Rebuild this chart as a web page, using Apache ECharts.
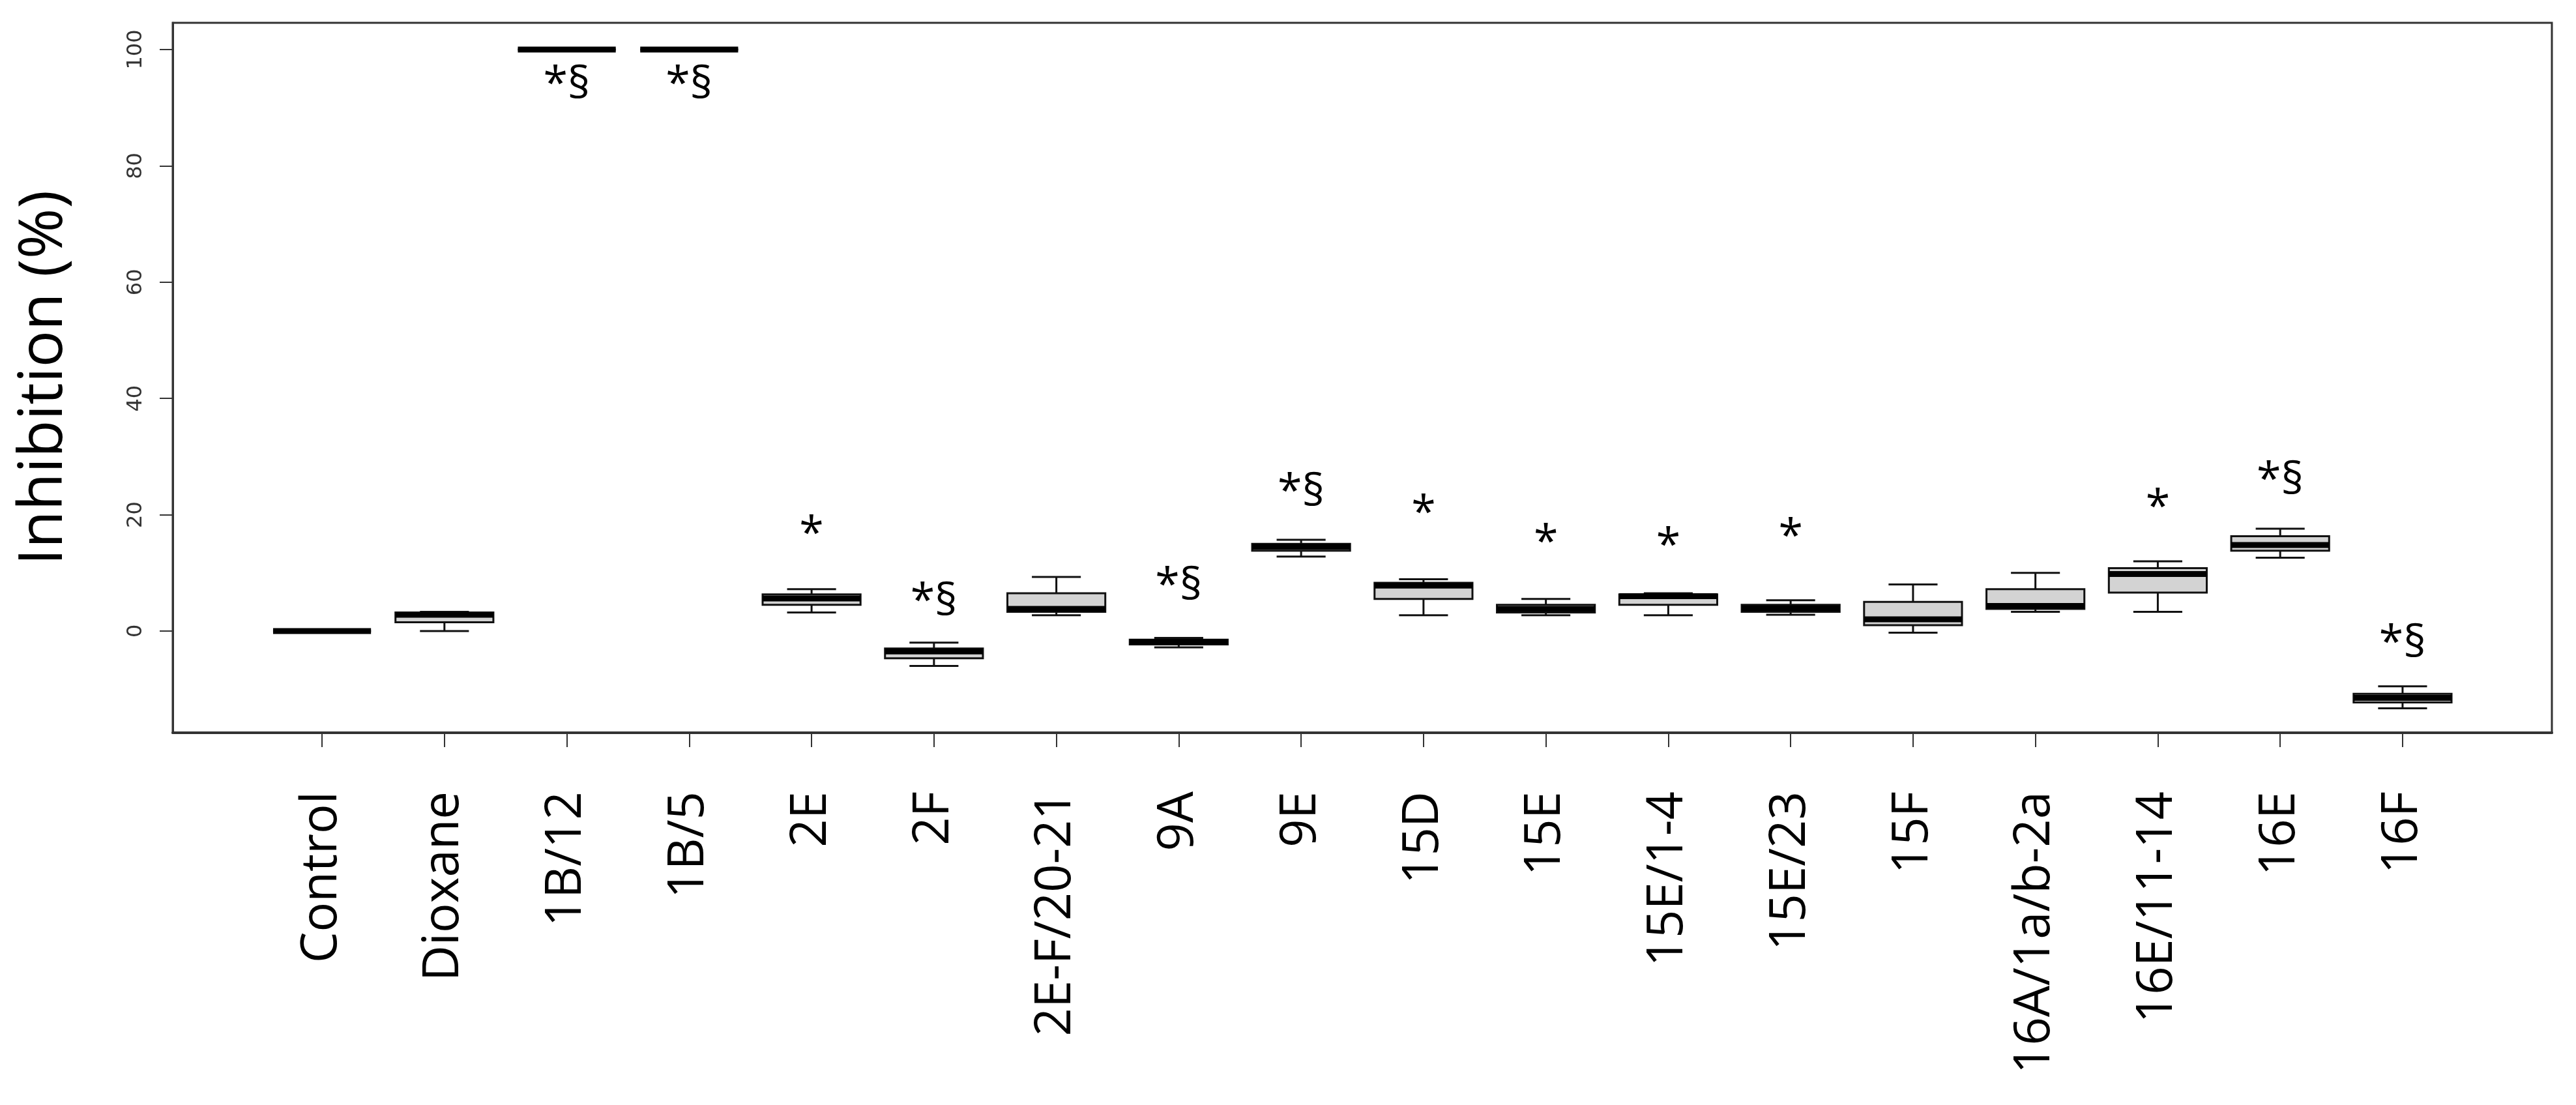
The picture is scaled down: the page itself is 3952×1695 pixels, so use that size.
<!DOCTYPE html>
<html><head><meta charset="utf-8">
<script src="https://cdn.jsdelivr.net/npm/echarts@6/dist/echarts.min.js"></script>
<style>html,body{margin:0;padding:0;background:#fff}#c{width:3952px;height:1695px}</style>
</head><body><div id="c"></div>
<script>
const categories = ["Control","Dioxane","1B/12","1B/5","2E","2F","2E-F/20-21","9A","9E","15D","15E","15E/1-4","15E/23","15F","16A/1a/b-2a","16E/11-14","16E","16F"];
const whiskerLow = [0,0,100,100,3.2,-6,2.7,-2.8,12.8,2.7,2.7,2.7,2.8,-0.3,3.3,3.3,12.6,-13.3];
const quart1 =     [0,1.5,100,100,4.5,-4.7,3.3,-2.3,13.8,5.5,3.2,4.5,3.3,1,3.8,6.6,13.8,-12.3];
const median =     [0,2.8,100,100,5.6,-3.5,3.8,-1.9,14.5,7.8,3.8,6,3.9,2,4.3,9.8,14.8,-11.5];
const quart3 =     [0,3.2,100,100,6.3,-3,6.5,-1.5,15,8.3,4.5,6.3,4.5,5,7.2,10.8,16.3,-10.8];
const whiskerHigh =[0,3.3,100,100,7.2,-2,9.3,-1.2,15.7,8.9,5.5,6.5,5.3,8,10,12,17.6,-9.5];
const marks =   ["","","*§","*§","*","*§","","*§","*§","*","*","*","*","","","*","*§","*§"];
const markY =   [0,0,93.8,93.8,16.4,4.8,0,7.6,23.7,20,15,14.4,16,0,0,21,25.7,-2.3];
const yTicks = [0,20,40,60,80,100];

const boxData = categories.map((c,i)=>[i+1,whiskerLow[i],quart1[i],median[i],quart3[i],whiskerHigh[i]]);
const markData = categories.map((c,i)=>[i+1,markY[i],marks[i]]).filter(d=>d[2]);

const chart = echarts.init(document.getElementById('c'));
chart.setOption({
  animation:false,
  grid:{left:265,top:35,right:37,bottom:571,show:true,borderColor:'#333',borderWidth:3},
  xAxis:{type:'value',min:-0.22,max:19.22,splitLine:{show:false},
    axisLine:{show:true,onZero:false,lineStyle:{color:'#333',width:4}},
    axisTick:{show:true,customValues:categories.map((c,i)=>i+1),length:22,lineStyle:{color:'#333',width:2}},
    axisLabel:{customValues:categories.map((c,i)=>i+1),formatter:v=>categories[Math.round(v)-1]||'',
      rotate:90,margin:90,fontSize:76,fontFamily:'Open Sans',color:'#000'}},
  yAxis:{type:'value',min:-17.5,max:104.6,splitLine:{show:false},
    name:'Inhibition (%)',nameLocation:'middle',nameGap:150,nameRotate:90,
    nameTextStyle:{fontSize:94,fontFamily:'Open Sans',color:'#000'},
    axisLine:{show:true,onZero:false,lineStyle:{color:'#333',width:3}},
    axisTick:{show:true,customValues:yTicks,length:20,lineStyle:{color:'#333',width:2}},
    axisLabel:{customValues:yTicks,rotate:90,margin:40,fontSize:32,fontFamily:'DejaVu Sans',color:'#333'}},
  series:[{
    type:'custom',data:boxData,
    renderItem:(params,api)=>{
      const x=api.value(0),hw=0.4,cw=0.2;
      const p=v=>api.coord([x,v]);
      const L=api.coord([x-hw,0])[0],R=api.coord([x+hw,0])[0],xc=p(0)[0];
      const cl=api.coord([x-cw,0])[0],cr=api.coord([x+cw,0])[0];
      const lo=p(api.value(1))[1],q1=p(api.value(2))[1],md=p(api.value(3))[1],q3=p(api.value(4))[1],hi=p(api.value(5))[1];
      const ls={stroke:'#111',lineWidth:3};
      return {type:'group',children:[
        {type:'line',shape:{x1:xc,y1:lo,x2:xc,y2:q1},style:ls},
        {type:'line',shape:{x1:xc,y1:q3,x2:xc,y2:hi},style:ls},
        {type:'line',shape:{x1:cl,y1:lo,x2:cr,y2:lo},style:ls},
        {type:'line',shape:{x1:cl,y1:hi,x2:cr,y2:hi},style:ls},
        {type:'rect',shape:{x:L,y:q3,width:R-L,height:q1-q3},style:{fill:'#d3d3d3',stroke:'#111',lineWidth:3}},
        {type:'line',shape:{x1:L,y1:md,x2:R,y2:md},style:{stroke:'#000',lineWidth:9}}
      ]};
    }
  },{
    type:'custom',data:markData,
    renderItem:(params,api)=>{
      const pt=api.coord([api.value(0),api.value(1)]);
      return {type:'text',x:pt[0],y:pt[1],style:{text:markData[params.dataIndex][2],fontSize:68,fontFamily:'Open Sans',fill:'#000',align:'center',verticalAlign:'middle'}};
    }
  }]
});
</script></body></html>
